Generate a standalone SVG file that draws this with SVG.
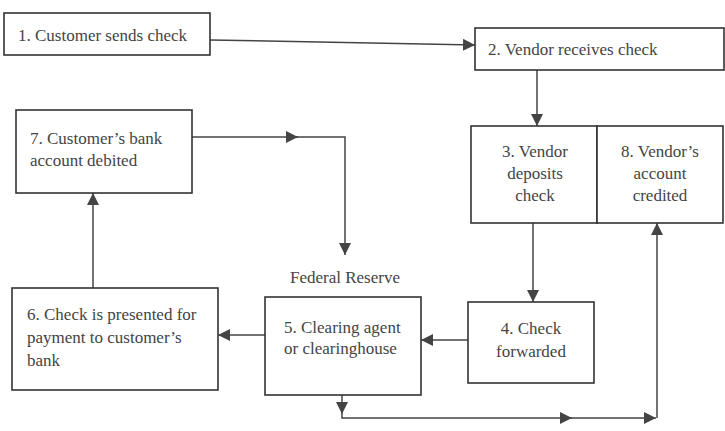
<svg xmlns="http://www.w3.org/2000/svg" width="725" height="431" viewBox="0 0 725 431">
<style>
  .box{fill:#fff;stroke:#333;stroke-width:1.6}
  .t{font-family:'Liberation Serif','DejaVu Serif',serif;font-size:17px;fill:#444}
  .c{text-anchor:middle}
  .ln{fill:none;stroke:#444;stroke-width:1.5}
</style>
<defs>
  <marker id="ah" viewBox="0 0 10 10" refX="10" refY="5" markerWidth="12" markerHeight="12" markerUnits="userSpaceOnUse" orient="auto">
    <path d="M0 0 L10 5 L0 10 Z" fill="#444"/>
  </marker>
</defs>
<rect width="725" height="431" fill="#fff"/>
<g id="connectors">
  <path class="ln" d="M210 40 L475 45" marker-end="url(#ah)"/>
  <path class="ln" d="M537 70 V126" marker-end="url(#ah)"/>
  <path class="ln" d="M533 223 V302" marker-end="url(#ah)"/>
  <path class="ln" d="M468 340 H421" marker-end="url(#ah)"/>
  <path class="ln" d="M265 335 H218" marker-end="url(#ah)"/>
  <path class="ln" d="M93 288 V193" marker-end="url(#ah)"/>
  <path class="ln" d="M192 137 H298" marker-end="url(#ah)"/>
  <path class="ln" d="M296 137 H345 V255" marker-end="url(#ah)"/>
  <path class="ln" d="M342 395 V414" marker-end="url(#ah)"/>
  <path class="ln" d="M342 414 V418 H572" marker-end="url(#ah)"/>
  <path class="ln" d="M570 418 H656" marker-end="url(#ah)"/>
  <path class="ln" d="M657 418 V223" marker-end="url(#ah)"/>
</g>
<g id="n1">
  <rect class="box" x="4" y="13" width="206" height="42"/>
  <text class="t" x="18" y="41">1. Customer sends check</text>
</g>
<g id="n2">
  <rect class="box" x="475" y="28" width="249" height="42"/>
  <text class="t" x="488" y="55">2. Vendor receives check</text>
</g>
<g id="n3">
  <rect class="box" x="471" y="126" width="126" height="97"/>
  <text class="t c" x="535" y="157">3. Vendor</text>
  <text class="t c" x="535" y="179">deposits</text>
  <text class="t c" x="535" y="201">check</text>
</g>
<g id="n8">
  <rect class="box" x="597" y="126" width="126" height="97"/>
  <text class="t c" x="660" y="157">8. Vendor’s</text>
  <text class="t c" x="660" y="179">account</text>
  <text class="t c" x="660" y="201">credited</text>
</g>
<g id="n4">
  <rect class="box" x="468" y="302" width="126" height="81"/>
  <text class="t c" x="531" y="334">4. Check</text>
  <text class="t c" x="531" y="357">forwarded</text>
</g>
<g id="n5">
  <text class="t" x="290" y="283">Federal Reserve</text>
  <rect class="box" x="265" y="297" width="156" height="98"/>
  <text class="t" x="284" y="333">5. Clearing agent</text>
  <text class="t" x="284" y="354">or clearinghouse</text>
</g>
<g id="n6">
  <rect class="box" x="12" y="288" width="206" height="102"/>
  <text class="t" x="27" y="320">6. Check is presented for</text>
  <text class="t" x="27" y="343">payment to customer’s</text>
  <text class="t" x="27" y="366">bank</text>
</g>
<g id="n7">
  <rect class="box" x="16" y="110" width="176" height="83"/>
  <text class="t" x="30" y="144">7. Customer’s bank</text>
  <text class="t" x="30" y="166">account debited</text>
</g>
</svg>
